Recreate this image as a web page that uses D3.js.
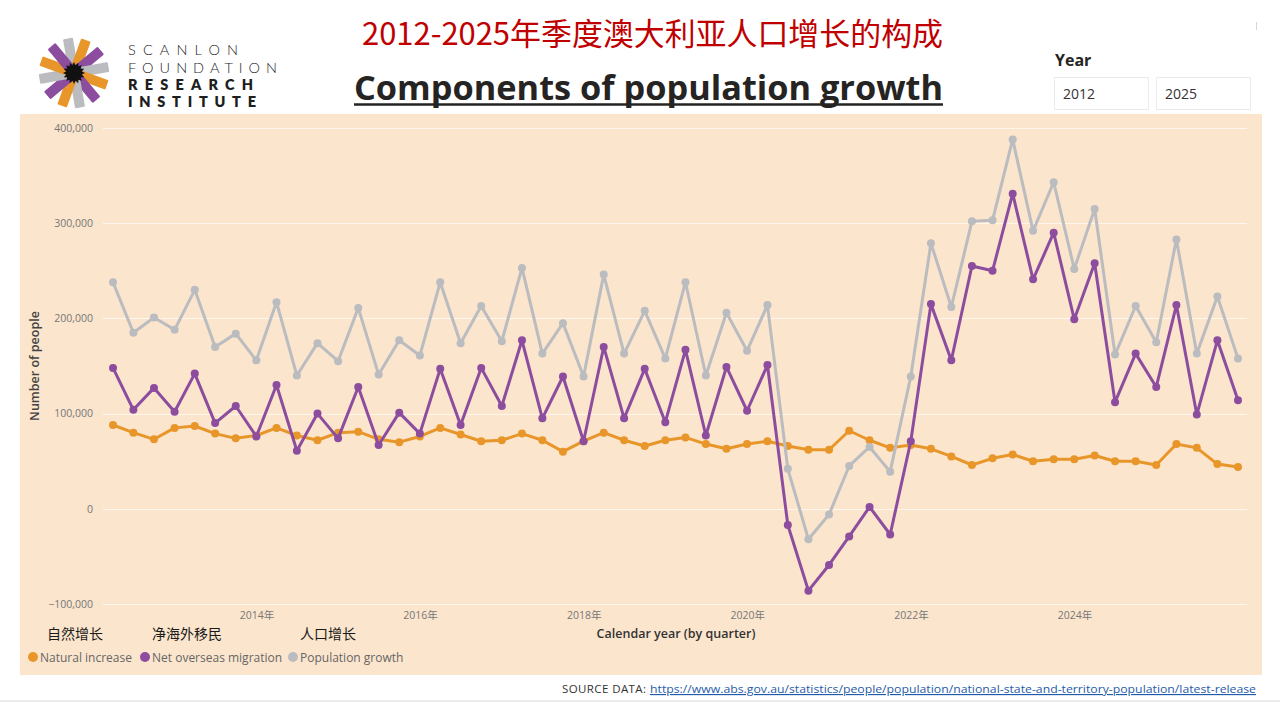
<!DOCTYPE html>
<html>
<head>
<meta charset="utf-8">
<script src="https://cdn.jsdelivr.net/npm/d3@7"></script>
<style>
  body { margin: 0; background: #fff; }
  svg { display: block; font-family: 'Segoe UI', 'Open Sans', 'Noto Sans', sans-serif; }
</style>
</head>
<body>
<script>
// quarter end dates, Mar 2012 - Dec 2025
const quarters = [
  "2012-03-31","2012-06-30","2012-09-30","2012-12-31",
  "2013-03-31","2013-06-30","2013-09-30","2013-12-31",
  "2014-03-31","2014-06-30","2014-09-30","2014-12-31",
  "2015-03-31","2015-06-30","2015-09-30","2015-12-31",
  "2016-03-31","2016-06-30","2016-09-30","2016-12-31",
  "2017-03-31","2017-06-30","2017-09-30","2017-12-31",
  "2018-03-31","2018-06-30","2018-09-30","2018-12-31",
  "2019-03-31","2019-06-30","2019-09-30","2019-12-31",
  "2020-03-31","2020-06-30","2020-09-30","2020-12-31",
  "2021-03-31","2021-06-30","2021-09-30","2021-12-31",
  "2022-03-31","2022-06-30","2022-09-30","2022-12-31",
  "2023-03-31","2023-06-30","2023-09-30","2023-12-31",
  "2024-03-31","2024-06-30","2024-09-30","2024-12-31",
  "2025-03-31","2025-06-30","2025-09-30","2025-12-31"
];

const naturalIncrease = [
  88000, 80000, 73000, 85000, 87000, 79000, 74000, 77000,
  85000, 77000, 72000, 80000, 81000, 73000, 70000, 76000,
  85000, 78000, 71000, 72000, 79000, 72000, 60000, 71000,
  80000, 72000, 66000, 72000, 75000, 68000, 63000, 68000,
  71000, 66000, 62000, 62000, 82000, 72000, 64000, 67000,
  63000, 55000, 46000, 53000, 57000, 50000, 52000, 52000,
  56000, 50000, 50000, 46000, 68000, 64000, 47000, 44000
];

const netOverseasMigration = [
  148000, 104000, 127000, 102000, 142000, 90000, 108000, 76000,
  130000, 61000, 100000, 74000, 128000, 67000, 101000, 79000,
  147000, 88000, 148000, 108000, 177000, 95000, 139000, 71000,
  170000, 95000, 147000, 91000, 167000, 77000, 149000, 103000,
  151000, -17000, -86000, -59000, -29000, 2000, -27000, 71000,
  215000, 156000, 255000, 250000, 331000, 241000, 290000, 199000,
  258000, 112000, 163000, 128000, 214000, 99000, 177000, 114000
];

const populationGrowth = [
  238000, 185000, 201000, 188000, 230000, 170000, 184000, 156000,
  217000, 140000, 174000, 155000, 211000, 141000, 177000, 161000,
  238000, 174000, 213000, 176000, 253000, 163000, 195000, 139000,
  246000, 163000, 208000, 158000, 238000, 140000, 206000, 166000,
  214000, 42000, -32000, -6000, 45000, 65000, 39000, 139000,
  279000, 212000, 302000, 303000, 388000, 292000, 343000, 252000,
  315000, 162000, 213000, 175000, 283000, 163000, 223000, 158000
];

const seriesNames = ["Natural increase", "Net overseas migration", "Population growth"];
const seriesNamesZh = ["自然增长", "净海外移民", "人口增长"];
const seriesColors = ["#E8962A", "#8C4D9F", "#BABCBF"];
const yTicks = [-100000, 0, 100000, 200000, 300000, 400000];
const xTickYears = [2014, 2016, 2018, 2020, 2022, 2024];
const yearRange = ["2012", "2025"];

window.addEventListener('load', function () {
  const svg = d3.select('body').append('svg')
    .attr('width', 1280)
    .attr('height', 705);

  // panel background
  svg.append('rect')
    .attr('x', 20).attr('y', 114)
    .attr('width', 1242).attr('height', 561)
    .attr('fill', '#FBE5CD');
  svg.append('rect')
    .attr('x', 0).attr('y', 700)
    .attr('width', 1280).attr('height', 2)
    .attr('fill', '#ececec');
  svg.append('line')
    .attr('x1', 1256.5).attr('x2', 1256.5)
    .attr('y1', 22).attr('y2', 30)
    .attr('stroke', '#d8d8d8');

  // logo
  const logo = svg.append('g').attr('transform', 'translate(74,73)');
  const logoCols = ["#BABCBF", "#E8962A", "#8C4D9F"];
  for (let i = 0; i < 12; i++) {
    logo.append('rect')
      .attr('x', 3).attr('y', -5)
      .attr('width', 32).attr('height', 10)
      .attr('rx', 1)
      .attr('fill', logoCols[i % 3])
      .attr('transform', 'rotate(' + (-100 + i * 30) + ')');
  }
  const starPts = [];
  for (let i = 0; i < 32; i++) {
    const r = i % 2 === 0 ? 11 : 8;
    const a = i * Math.PI / 16;
    starPts.push([r * Math.cos(a), r * Math.sin(a)]);
  }
  logo.append('polygon')
    .attr('points', starPts.map(p => p.join(',')).join(' '))
    .attr('fill', '#111');

  const logoText = [
    {t: 'SCANLON', y: 55, w: 110, weight: 300},
    {t: 'FOUNDATION', y: 73, w: 149, weight: 300},
    {t: 'RESEARCH', y: 90, w: 125, weight: 800},
    {t: 'INSTITUTE', y: 107, w: 128, weight: 800}
  ];
  svg.selectAll('.logotext')
    .data(logoText)
    .enter()
    .append('text')
    .attr('x', 128)
    .attr('y', d => d.y)
    .attr('font-family', 'Lato, sans-serif')
    .attr('font-size', 14.5)
    .attr('font-weight', d => d.weight)
    .attr('fill', '#1e1e1e')
    .attr('textLength', d => d.w)
    .attr('lengthAdjust', 'spacing')
    .text(d => d.t);

  // titles
  svg.append('text')
    .attr('x', 362).attr('y', 45)
    .attr('font-family', '"Noto Sans CJK SC", sans-serif')
    .attr('font-size', 31)
    .attr('fill', '#C00000')
    .attr('textLength', 581)
    .attr('lengthAdjust', 'spacingAndGlyphs')
    .text('2012-2025年季度澳大利亚人口增长的构成');

  svg.append('text')
    .attr('x', 354).attr('y', 100)
    .attr('font-size', 34)
    .attr('font-weight', 700)
    .attr('fill', '#252423')
    .attr('textLength', 589)
    .attr('lengthAdjust', 'spacingAndGlyphs')
    .text('Components of population growth');
  svg.append('line')
    .attr('x1', 354).attr('x2', 943)
    .attr('y1', 104.5).attr('y2', 104.5)
    .attr('stroke', '#252423')
    .attr('stroke-width', 2.5);

  // year slicer
  svg.append('text')
    .attr('x', 1055).attr('y', 66)
    .attr('font-size', 16)
    .attr('font-weight', 700)
    .attr('fill', '#252423')
    .text('Year');
  svg.selectAll('.yearbox')
    .data(yearRange)
    .enter()
    .append('rect')
    .attr('x', (d, i) => 1054.5 + i * 102)
    .attr('y', 77.5)
    .attr('width', 94).attr('height', 32)
    .attr('fill', '#fff')
    .attr('stroke', '#ebebeb');
  svg.selectAll('.yeartext')
    .data(yearRange)
    .enter()
    .append('text')
    .attr('x', (d, i) => 1063 + i * 102)
    .attr('y', 99)
    .attr('font-size', 14)
    .attr('fill', '#333')
    .text(d => d);

  // scales
  const parse = d3.timeParse('%Y-%m-%d');
  const dates = quarters.map(parse);
  const xScale = d3.scaleTime()
    .domain([dates[0], dates[dates.length - 1]])
    .range([113, 1238]);
  const yScale = d3.scaleLinear()
    .domain([-100000, 400000])
    .range([604, 128]);

  // gridlines
  svg.selectAll('.grid')
    .data(yTicks)
    .enter()
    .append('line')
    .attr('x1', 103).attr('x2', 1247)
    .attr('y1', d => Math.round(yScale(d)) + 0.5)
    .attr('y2', d => Math.round(yScale(d)) + 0.5)
    .attr('stroke', '#FFF7EE')
    .attr('stroke-width', 1.2);

  const yAxis = d3.axisLeft(yScale)
    .tickValues(yTicks)
    .tickSize(0)
    .tickPadding(0)
    .tickFormat(d3.format(','));
  const gy = svg.append('g').attr('transform', 'translate(93,0)').call(yAxis);
  gy.select('.domain').remove();
  gy.selectAll('text')
    .attr('font-family', "'Segoe UI', 'Open Sans', sans-serif")
    .attr('font-size', 10.5)
    .attr('fill', '#777');

  const xAxis = d3.axisBottom(xScale)
    .tickValues(xTickYears.map(y => new Date(y, 0, 1)))
    .tickSize(0)
    .tickPadding(0)
    .tickFormat(d => d.getFullYear() + '年');
  const gx = svg.append('g').attr('transform', 'translate(0,612)').call(xAxis);
  gx.select('.domain').remove();
  gx.selectAll('text')
    .attr('font-family', "'Segoe UI', 'Open Sans', 'Noto Sans CJK SC', sans-serif")
    .attr('font-size', 10.5)
    .attr('fill', '#777');

  // axis titles
  svg.append('text')
    .attr('transform', 'translate(39,366) rotate(-90)')
    .attr('text-anchor', 'middle')
    .attr('font-size', 12.5)
    .attr('font-weight', 600)
    .attr('fill', '#444')
    .text('Number of people');
  svg.append('text')
    .attr('x', 676).attr('y', 638)
    .attr('text-anchor', 'middle')
    .attr('font-size', 12.5)
    .attr('font-weight', 600)
    .attr('fill', '#333')
    .text('Calendar year (by quarter)');

  // lines
  const allSeries = [naturalIncrease, netOverseasMigration, populationGrowth];
  const line = d3.line()
    .x((d, i) => xScale(dates[i]))
    .y(d => yScale(d));

  allSeries.forEach(function (values, s) {
    svg.append('path')
      .datum(values)
      .attr('d', line)
      .attr('fill', 'none')
      .attr('stroke', seriesColors[s])
      .attr('stroke-width', 3)
      .attr('stroke-linejoin', 'round');
    svg.selectAll('.dot' + s)
      .data(values)
      .enter()
      .append('circle')
      .attr('cx', (d, i) => xScale(dates[i]))
      .attr('cy', d => yScale(d))
      .attr('r', 4)
      .attr('fill', seriesColors[s]);
  });

  // legend
  const zhX = [47, 152, 300];
  const legX = [33, 145, 293];
  svg.selectAll('.zh')
    .data(seriesNamesZh)
    .enter()
    .append('text')
    .attr('x', (d, i) => zhX[i])
    .attr('y', 639)
    .attr('font-family', '"Noto Sans CJK SC", sans-serif')
    .attr('font-size', 14)
    .attr('fill', '#1a1a1a')
    .text(d => d);
  svg.selectAll('.legdot')
    .data(seriesNames)
    .enter()
    .append('circle')
    .attr('cx', (d, i) => legX[i])
    .attr('cy', 657)
    .attr('r', 5)
    .attr('fill', (d, i) => seriesColors[i]);
  svg.selectAll('.legtext')
    .data(seriesNames)
    .enter()
    .append('text')
    .attr('x', (d, i) => legX[i] + 7)
    .attr('y', 661.5)
    .attr('font-size', 12)
    .attr('fill', '#666')
    .text(d => d);

  // source
  svg.append('text')
    .attr('x', 562).attr('y', 693)
    .attr('font-size', 11.5)
    .attr('fill', '#333')
    .attr('textLength', 84)
    .text('SOURCE DATA:');
  svg.append('text')
    .attr('x', 650).attr('y', 693)
    .attr('font-size', 11.5)
    .attr('fill', '#1F5BAA')
    .attr('text-decoration', 'underline')
    .attr('textLength', 606)
    .attr('lengthAdjust', 'spacingAndGlyphs')
    .text('https://www.abs.gov.au/statistics/people/population/national-state-and-territory-population/latest-release');
});
</script>
</body>
</html>
